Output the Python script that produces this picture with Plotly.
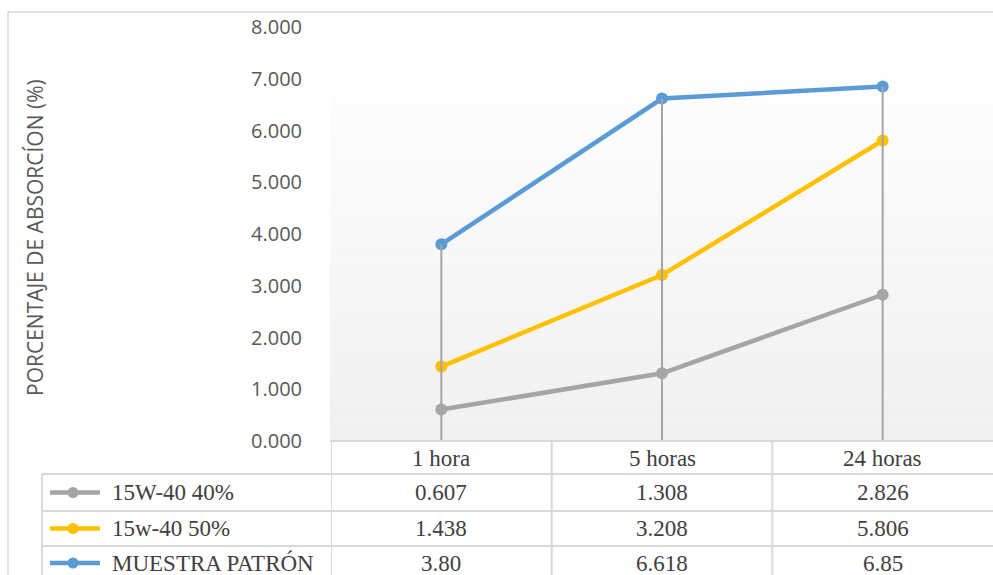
import plotly.graph_objects as go

# ---------------- data ----------------
categories = ["1 hora", "5 horas", "24 horas"]
series_names = ["15W-40 40%", "15w-40 50%", "MUESTRA PATRÓN"]
s_40 = [0.607, 1.308, 2.826]
s_50 = [1.438, 3.208, 5.806]
s_patron = [3.80, 6.618, 6.85]
table_text_40 = ["0.607", "1.308", "2.826"]
table_text_50 = ["1.438", "3.208", "5.806"]
table_text_patron = ["3.80", "6.618", "6.85"]
y_ticks = [0, 1, 2, 3, 4, 5, 6, 7, 8]
y_title = "PORCENTAJE DE ABSORCÍON (%)"

series = [s_40, s_50, s_patron]
table_texts = [table_text_40, table_text_50, table_text_patron]
colors = ["#a5a5a5", "#ffc000", "#5b9bd5"]

# ---------------- layout geometry (pixels) ----------------
W, H = 993, 575
L, R, T, B = 331, 0, 27, 134
PW = W - L - R
PH = H - T - B


def xp(px):
    return (px - L) / PW


def yp(py):
    return (H - B - py) / PH


fig = go.Figure()

# series lines
for name, vals, col in zip(series_names, series, colors):
    fig.add_trace(go.Scatter(
        x=categories, y=vals, name=name, mode="lines+markers",
        line=dict(color=col, width=4.5),
        marker=dict(color=col, size=12),
        showlegend=False, hoverinfo="x+y+name"))

# drop (high-low) lines from axis to highest value
dx, dy = [], []
for i, c in enumerate(categories):
    top = max(s[i] for s in series)
    dx += [c, c, None]
    dy += [0, top, None]
fig.add_trace(go.Scatter(x=dx, y=dy, mode="lines",
                         line=dict(color="#a5a5a5", width=2),
                         showlegend=False, hoverinfo="skip"))

shapes = []
# gradient plot-area background
g_top, g_bot = 72, H - B
nb = 40
for k in range(nb):
    y0 = g_top + (g_bot - g_top) * k / nb
    y1 = g_top + (g_bot - g_top) * (k + 1) / nb
    t = (k + 0.5) / nb
    v = round(254 - (254 - 240) * t)
    shapes.append(dict(type="rect", xref="paper", yref="paper",
                       x0=xp(330), x1=1, y0=yp(y1), y1=yp(y0),
                       fillcolor=f"rgb({v},{v},{v})", line=dict(width=0),
                       layer="below"))

# outer chart border
shapes.append(dict(type="rect", xref="paper", yref="paper",
                   x0=xp(8), x1=xp(1010), y0=yp(600), y1=yp(12),
                   line=dict(color="#d9d9d9", width=1.5),
                   fillcolor="rgba(0,0,0,0)", layer="below"))

# data table grid
gc = "#d9d9d9"
gw = 2
row_lines = [441, 474, 511, 546]
for i, ry in enumerate(row_lines):
    x0 = 330 if i == 0 else 42
    shapes.append(dict(type="line", xref="paper", yref="paper",
                       x0=xp(x0), x1=1.0, y0=yp(ry), y1=yp(ry),
                       line=dict(color=gc, width=gw)))
shapes.append(dict(type="line", xref="paper", yref="paper",
                   x0=xp(42), x1=xp(42), y0=yp(474), y1=yp(600),
                   line=dict(color=gc, width=gw)))
for xv in [-0.5, 0.5, 1.5]:
    shapes.append(dict(type="line", xref="x", yref="paper",
                       x0=xv, x1=xv, y0=yp(441), y1=yp(600),
                       line=dict(color=gc, width=gw)))

annotations = []
tfont = dict(family="Liberation Serif, Times New Roman, serif", size=23, color="#404040")
# header
for i, c in enumerate(categories):
    annotations.append(dict(x=i, y=yp(458), xref="x", yref="paper", text=c,
                            showarrow=False, font=tfont, xanchor="center", yanchor="middle"))
row_centers = [492.5, 528.5, 563]
for r, (name, texts, col) in enumerate(zip(series_names, table_texts, colors)):
    cy = row_centers[r]
    for i in range(len(categories)):
        annotations.append(dict(x=i, y=yp(cy), xref="x", yref="paper", text=texts[i],
                                showarrow=False, font=tfont, xanchor="center", yanchor="middle"))
    annotations.append(dict(x=xp(110), y=yp(cy), xref="paper", yref="paper", text=name,
                            showarrow=False, font=tfont, xanchor="left", yanchor="middle"))
    shapes.append(dict(type="line", xref="paper", yref="paper",
                       x0=xp(50), x1=xp(100), y0=yp(cy), y1=yp(cy),
                       line=dict(color=col, width=4.5)))
    shapes.append(dict(type="circle", xref="paper", yref="paper",
                       x0=xp(67.5), x1=xp(78.5), y0=yp(cy + 5.5), y1=yp(cy - 5.5),
                       fillcolor=col, line=dict(color=col, width=0)))

# y axis title
annotations.append(dict(x=xp(35), y=yp(238), xref="paper", yref="paper", text=y_title,
                        textangle=-90, showarrow=False,
                        font=dict(family="Open Sans, sans-serif", size=21, color="#595959"),
                        xanchor="center", yanchor="middle"))

fig.update_layout(
    width=W, height=H,
    margin=dict(l=L, r=R, t=T, b=B, pad=0),
    paper_bgcolor="white", plot_bgcolor="rgba(0,0,0,0)",
    shapes=shapes, annotations=annotations,
    showlegend=False,
    xaxis=dict(type="category", range=[-0.5, 2.5], showticklabels=False,
               showgrid=False, zeroline=False, showline=False, fixedrange=True),
    yaxis=dict(range=[0, 8], tickvals=y_ticks, tickformat=".3f",
               showgrid=False, zeroline=False, showline=False,
               ticks="", ticklabelstandoff=28,
               tickfont=dict(family="Open Sans, sans-serif", size=20, color="#595959")),
)

fig.write_html("out.html")
